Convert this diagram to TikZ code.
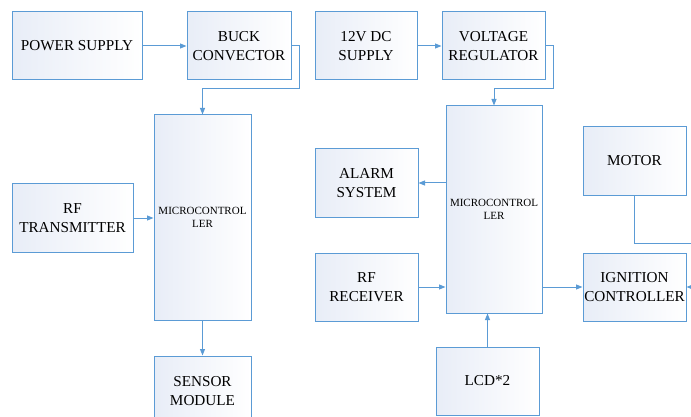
\documentclass[tikz,border=0pt]{standalone}
\usepackage{fontspec}
\setmainfont{Liberation Serif}
\usetikzlibrary{arrows.meta}
\definecolor{edgeblue}{RGB}{91,155,213}
\definecolor{fillblue}{RGB}{232,237,247}
\begin{document}
\begin{tikzpicture}[x=1pt,y=-1pt,
  blk/.style={draw=edgeblue, line width=1pt, left color=fillblue, right color=white,
    align=center, inner sep=0pt, font=\fontsize{15.2}{18.5}\selectfont},
  mcu/.style={blk, font=\fontsize{11}{13.5}\selectfont},
  arr/.style={draw=edgeblue, line width=1pt, -{Triangle[length=6.5pt,width=5pt]}}]
\useasboundingbox (0,0) rectangle (691,417);
\clip (0,0) rectangle (691,417);

\node[blk, minimum width=130, minimum height=68] (ps) at (77,46) {POWER SUPPLY};
\node[blk, minimum width=104, minimum height=68] (buck) at (239,46) {BUCK\\ CONVECTOR};
\node[blk, minimum width=102, minimum height=68] (dc) at (366,46) {12V DC\\ SUPPLY};
\node[blk, minimum width=103, minimum height=68] (vr) at (493.5,46) {VOLTAGE\\ REGULATOR};
\node[mcu, minimum width=97, minimum height=205] (mca) at (202.5,217.5) {MICROCONTROL\\ LER};
\node[blk, minimum width=121, minimum height=68] (rftx) at (72.5,218) {RF\\ TRANSMITTER};
\node[blk, minimum width=97, minimum height=70] (sensor) at (202.5,391) {SENSOR\\ MODULE};
\node[blk, minimum width=103, minimum height=68] (alarm) at (366.5,183) {ALARM\\ SYSTEM};
\node[mcu, minimum width=96, minimum height=207] (mcb) at (494,209.5) {MICROCONTROL\\ LER};
\node[blk, minimum width=103, minimum height=68] (rfrx) at (366.5,287) {RF\\ RECEIVER};
\node[blk, minimum width=103, minimum height=68] (lcd) at (487.5,381) {LCD*2};
\node[blk, minimum width=103, minimum height=68] (motor) at (634.5,161) {MOTOR};
\node[blk, minimum width=103, minimum height=68] (ign) at (634.5,287) {IGNITION\\ CONTROLLER};
\coordinate (rt) at (706,243);

\draw[arr] (ps) -- (buck);
\draw[arr] (dc) -- (vr);
\draw[arr] (buck.east) -- ++(8,0) -- ++(0,43) -| (mca.north);
\draw[arr] (vr.east) -- ++(8,0) -- ++(0,43) -| (mcb.north);
\draw[arr] (rftx.east) -- (rftx.east -| mca.west);
\draw[arr] (mca.south) -- (sensor.north);
\draw[arr] (mcb.west |- alarm.east) -- (alarm.east);
\draw[arr] (rfrx.east) -- (rfrx.east -| mcb.west);
\draw[arr] (lcd.north) -- (lcd.north |- mcb.south);
\draw[arr] (mcb.east |- ign.west) -- (ign.west);
\draw[arr] (motor.south) |- (rt) |- (ign.east);
\end{tikzpicture}
\end{document}
